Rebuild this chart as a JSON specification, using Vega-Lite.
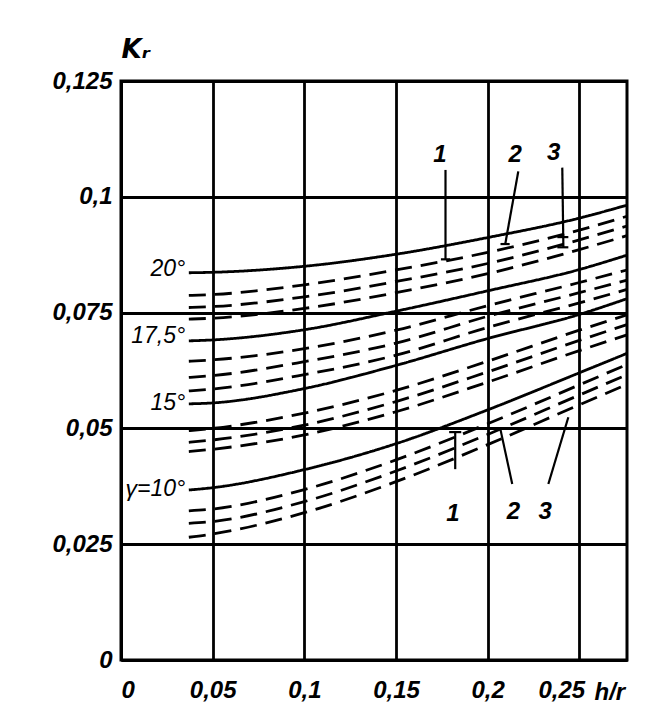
{
  "$schema": "https://vega.github.io/schema/vega-lite/v6.json",
  "width": 506,
  "height": 579,
  "autosize": {"type": "none"},
  "padding": {"left": 121, "top": 81, "right": 44, "bottom": 65},
  "background": "white",
  "config": {"view": {"stroke": "black", "strokeWidth": 3}, "font": "Liberation Sans"},
  "datasets": {
    "curves": [
      {"c":"20s","k":"solid","x":0.037,"y":0.0836},{"c":"20s","k":"solid","x":0.05,"y":0.0837},{"c":"20s","k":"solid","x":0.1,"y":0.0850},{"c":"20s","k":"solid","x":0.15,"y":0.0876},{"c":"20s","k":"solid","x":0.2,"y":0.0912},{"c":"20s","k":"solid","x":0.25,"y":0.0954},{"c":"20s","k":"solid","x":0.276,"y":0.0982},
      {"c":"20a","k":"dashed","x":0.037,"y":0.0787},{"c":"20a","k":"dashed","x":0.05,"y":0.0789},{"c":"20a","k":"dashed","x":0.1,"y":0.0810},{"c":"20a","k":"dashed","x":0.15,"y":0.0842},{"c":"20a","k":"dashed","x":0.2,"y":0.0880},{"c":"20a","k":"dashed","x":0.25,"y":0.0928},{"c":"20a","k":"dashed","x":0.276,"y":0.0958},
      {"c":"20b","k":"dashed","x":0.037,"y":0.0761},{"c":"20b","k":"dashed","x":0.05,"y":0.0763},{"c":"20b","k":"dashed","x":0.1,"y":0.0784},{"c":"20b","k":"dashed","x":0.15,"y":0.0817},{"c":"20b","k":"dashed","x":0.2,"y":0.0856},{"c":"20b","k":"dashed","x":0.25,"y":0.0907},{"c":"20b","k":"dashed","x":0.276,"y":0.0937},
      {"c":"20c","k":"dashed","x":0.037,"y":0.0736},{"c":"20c","k":"dashed","x":0.05,"y":0.0738},{"c":"20c","k":"dashed","x":0.1,"y":0.0759},{"c":"20c","k":"dashed","x":0.15,"y":0.0793},{"c":"20c","k":"dashed","x":0.2,"y":0.0834},{"c":"20c","k":"dashed","x":0.25,"y":0.0886},{"c":"20c","k":"dashed","x":0.276,"y":0.0916},
      {"c":"17s","k":"solid","x":0.037,"y":0.0689},{"c":"17s","k":"solid","x":0.05,"y":0.0691},{"c":"17s","k":"solid","x":0.1,"y":0.0713},{"c":"17s","k":"solid","x":0.15,"y":0.0753},{"c":"17s","k":"solid","x":0.2,"y":0.0797},{"c":"17s","k":"solid","x":0.25,"y":0.0843},{"c":"17s","k":"solid","x":0.276,"y":0.0874},
      {"c":"17a","k":"dashed","x":0.037,"y":0.0645},{"c":"17a","k":"dashed","x":0.05,"y":0.0648},{"c":"17a","k":"dashed","x":0.1,"y":0.0672},{"c":"17a","k":"dashed","x":0.15,"y":0.0712},{"c":"17a","k":"dashed","x":0.2,"y":0.0765},{"c":"17a","k":"dashed","x":0.25,"y":0.0815},{"c":"17a","k":"dashed","x":0.276,"y":0.0842},
      {"c":"17b","k":"dashed","x":0.037,"y":0.0610},{"c":"17b","k":"dashed","x":0.05,"y":0.0614},{"c":"17b","k":"dashed","x":0.1,"y":0.0644},{"c":"17b","k":"dashed","x":0.15,"y":0.0684},{"c":"17b","k":"dashed","x":0.2,"y":0.0742},{"c":"17b","k":"dashed","x":0.25,"y":0.0793},{"c":"17b","k":"dashed","x":0.276,"y":0.0820},
      {"c":"17c","k":"dashed","x":0.037,"y":0.0581},{"c":"17c","k":"dashed","x":0.05,"y":0.0585},{"c":"17c","k":"dashed","x":0.1,"y":0.0616},{"c":"17c","k":"dashed","x":0.15,"y":0.0658},{"c":"17c","k":"dashed","x":0.2,"y":0.0718},{"c":"17c","k":"dashed","x":0.25,"y":0.0771},{"c":"17c","k":"dashed","x":0.276,"y":0.0800},
      {"c":"15s","k":"solid","x":0.037,"y":0.0553},{"c":"15s","k":"solid","x":0.05,"y":0.0555},{"c":"15s","k":"solid","x":0.1,"y":0.0586},{"c":"15s","k":"solid","x":0.15,"y":0.0636},{"c":"15s","k":"solid","x":0.2,"y":0.0694},{"c":"15s","k":"solid","x":0.25,"y":0.0746},{"c":"15s","k":"solid","x":0.276,"y":0.0780},
      {"c":"15a","k":"dashed","x":0.037,"y":0.0495},{"c":"15a","k":"dashed","x":0.05,"y":0.0500},{"c":"15a","k":"dashed","x":0.1,"y":0.0533},{"c":"15a","k":"dashed","x":0.15,"y":0.0582},{"c":"15a","k":"dashed","x":0.2,"y":0.0645},{"c":"15a","k":"dashed","x":0.25,"y":0.0712},{"c":"15a","k":"dashed","x":0.276,"y":0.0745},
      {"c":"15b","k":"dashed","x":0.037,"y":0.0470},{"c":"15b","k":"dashed","x":0.05,"y":0.0475},{"c":"15b","k":"dashed","x":0.1,"y":0.0507},{"c":"15b","k":"dashed","x":0.15,"y":0.0558},{"c":"15b","k":"dashed","x":0.2,"y":0.0622},{"c":"15b","k":"dashed","x":0.25,"y":0.0690},{"c":"15b","k":"dashed","x":0.276,"y":0.0724},
      {"c":"15c","k":"dashed","x":0.037,"y":0.0450},{"c":"15c","k":"dashed","x":0.05,"y":0.0455},{"c":"15c","k":"dashed","x":0.1,"y":0.0486},{"c":"15c","k":"dashed","x":0.15,"y":0.0536},{"c":"15c","k":"dashed","x":0.2,"y":0.0600},{"c":"15c","k":"dashed","x":0.25,"y":0.0668},{"c":"15c","k":"dashed","x":0.276,"y":0.0702},
      {"c":"10s","k":"solid","x":0.037,"y":0.0367},{"c":"10s","k":"solid","x":0.05,"y":0.0372},{"c":"10s","k":"solid","x":0.1,"y":0.0411},{"c":"10s","k":"solid","x":0.15,"y":0.0467},{"c":"10s","k":"solid","x":0.2,"y":0.0540},{"c":"10s","k":"solid","x":0.25,"y":0.0620},{"c":"10s","k":"solid","x":0.276,"y":0.0662},
      {"c":"10a","k":"dashed","x":0.037,"y":0.0322},{"c":"10a","k":"dashed","x":0.05,"y":0.0326},{"c":"10a","k":"dashed","x":0.1,"y":0.0368},{"c":"10a","k":"dashed","x":0.15,"y":0.0432},{"c":"10a","k":"dashed","x":0.2,"y":0.0510},{"c":"10a","k":"dashed","x":0.25,"y":0.0594},{"c":"10a","k":"dashed","x":0.276,"y":0.0638},
      {"c":"10b","k":"dashed","x":0.037,"y":0.0295},{"c":"10b","k":"dashed","x":0.05,"y":0.0299},{"c":"10b","k":"dashed","x":0.1,"y":0.0342},{"c":"10b","k":"dashed","x":0.15,"y":0.0408},{"c":"10b","k":"dashed","x":0.2,"y":0.0487},{"c":"10b","k":"dashed","x":0.25,"y":0.0572},{"c":"10b","k":"dashed","x":0.276,"y":0.0616},
      {"c":"10c","k":"dashed","x":0.037,"y":0.0265},{"c":"10c","k":"dashed","x":0.05,"y":0.0272},{"c":"10c","k":"dashed","x":0.1,"y":0.0318},{"c":"10c","k":"dashed","x":0.15,"y":0.0385},{"c":"10c","k":"dashed","x":0.2,"y":0.0465},{"c":"10c","k":"dashed","x":0.25,"y":0.0551},{"c":"10c","k":"dashed","x":0.276,"y":0.0595}
    ],
    "angles": [
      {"t":"20°","x":0.035,"y":0.0845},
      {"t":"17,5°","x":0.035,"y":0.0700},
      {"t":"15°","x":0.035,"y":0.0555},
      {"t":"γ=10°","x":0.035,"y":0.0370}
    ],
    "numbers": [
      {"t":"1","x":0.174,"y":0.1091},
      {"t":"2","x":0.215,"y":0.1091},
      {"t":"3","x":0.236,"y":0.1095},
      {"t":"1","x":0.181,"y":0.0316},
      {"t":"2","x":0.214,"y":0.0320},
      {"t":"3","x":0.2314,"y":0.0320}
    ],
    "leaders": [
      {"x":0.177,"x2":0.177,"y":0.1058,"y2":0.0865},
      {"x":0.1745,"x2":0.1795,"y":0.0865,"y2":0.0865},
      {"x":0.2167,"x2":0.2096,"y":0.1055,"y2":0.0898},
      {"x":0.207,"x2":0.212,"y":0.0898,"y2":0.0898},
      {"x":0.2407,"x2":0.2413,"y":0.1063,"y2":0.0891},
      {"x":0.238,"x2":0.244,"y":0.0891,"y2":0.0891},
      {"x":0.238,"x2":0.244,"y":0.0913,"y2":0.0913},
      {"x":0.1823,"x2":0.1823,"y":0.0412,"y2":0.0492},
      {"x":0.179,"x2":0.1856,"y":0.0492,"y2":0.0492},
      {"x":0.2134,"x2":0.2069,"y":0.0380,"y2":0.0499},
      {"x":0.2331,"x2":0.244,"y":0.0380,"y2":0.0524}
    ]
  },
  "layer": [
    {
      "data": {"name": "curves"},
      "mark": {"type": "line", "interpolate": "monotone", "strokeWidth": 2.8, "color": "black", "strokeCap": "butt"},
      "encoding": {
        "x": {
          "field": "x", "type": "quantitative",
          "scale": {"domain": [0, 0.276], "nice": false, "zero": false},
          "axis": {
            "values": [0, 0.05, 0.1, 0.15, 0.2, 0.25],
            "grid": true, "gridColor": "black", "gridWidth": 2.8, "gridOpacity": 1,
            "domainColor": "black", "domainWidth": 3, "ticks": false,
            "labelPadding": 18, "labelFont": "Liberation Sans", "labelFontStyle": "italic", "labelFontWeight": "bold",
            "labelFontSize": 24, "labelColor": "black",
            "labelOffset": {"condition": {"test": "datum.value == 0.25", "value": -18}, "value": 0},
            "labelExpr": "replace(format(datum.value, '~g'), '.', ',')",
            "title": "h/r", "titleX": 473, "titleY": 39, "titleAlign": "left", "titleBaseline": "alphabetic",
            "titleFont": "Liberation Sans", "titleFontStyle": "italic", "titleFontWeight": "bold", "titleFontSize": 24, "titleColor": "black"
          }
        },
        "y": {
          "field": "y", "type": "quantitative",
          "scale": {"domain": [0, 0.125], "nice": false, "zero": false},
          "axis": {
            "values": [0, 0.025, 0.05, 0.075, 0.1, 0.125],
            "grid": true, "gridColor": "black", "gridWidth": 2.8, "gridOpacity": 1,
            "domainColor": "black", "domainWidth": 3, "ticks": false,
            "labelPadding": 9, "labelFont": "Liberation Sans", "labelFontStyle": "italic", "labelFontWeight": "bold",
            "labelFontSize": 24, "labelColor": "black",
            "labelExpr": "replace(format(datum.value, '~g'), '.', ',')",
            "title": "Kᵣ", "titleAngle": 0, "titleX": 0, "titleY": -24, "titleAlign": "left", "titleBaseline": "alphabetic",
            "titleFont": "DejaVu Sans", "titleFontStyle": "italic", "titleFontWeight": "bold", "titleFontSize": 26, "titleColor": "black"
          }
        },
        "detail": {"field": "c"},
        "strokeDash": {
          "field": "k", "type": "nominal",
          "scale": {"domain": ["solid", "dashed"], "range": [[1, 0], [17, 9]]},
          "legend": null
        }
      }
    },
    {
      "data": {"name": "leaders"},
      "mark": {"type": "rule", "color": "black", "strokeWidth": 2.2},
      "encoding": {
        "x": {"field": "x", "type": "quantitative"},
        "x2": {"field": "x2"},
        "y": {"field": "y", "type": "quantitative"},
        "y2": {"field": "y2"}
      }
    },
    {
      "data": {"name": "angles"},
      "mark": {"type": "text", "align": "right", "baseline": "middle", "font": "Liberation Sans", "fontStyle": "italic", "fontSize": 23, "color": "black"},
      "encoding": {
        "x": {"field": "x", "type": "quantitative"},
        "y": {"field": "y", "type": "quantitative"},
        "text": {"field": "t"}
      }
    },
    {
      "data": {"name": "numbers"},
      "mark": {"type": "text", "align": "center", "baseline": "middle", "font": "Liberation Sans", "fontStyle": "italic", "fontWeight": "bold", "fontSize": 24, "color": "black"},
      "encoding": {
        "x": {"field": "x", "type": "quantitative"},
        "y": {"field": "y", "type": "quantitative"},
        "text": {"field": "t"}
      }
    }
  ]
}
